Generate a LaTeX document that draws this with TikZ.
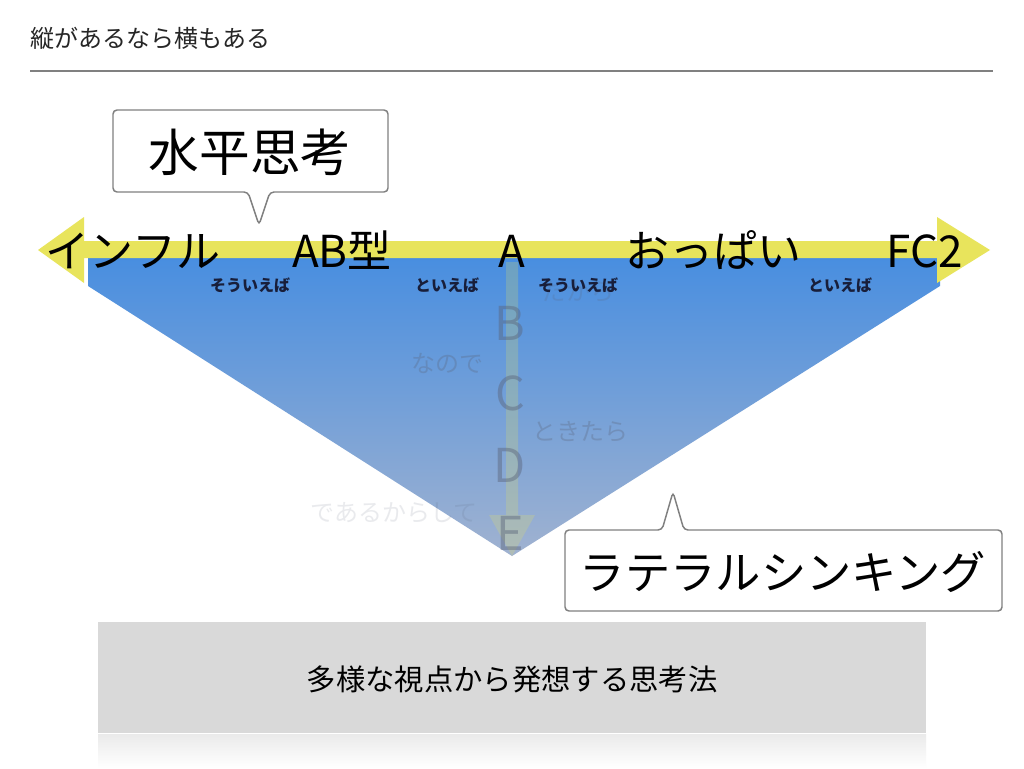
\documentclass[tikz,border=0pt]{standalone}
\usepackage{fontspec}
\newfontfamily\jp{Noto Sans CJK JP}
\usepackage{tikz}
\usetikzlibrary{positioning, calc}

\definecolor{hilite}{RGB}{232,228,92}
\definecolor{skytop}{RGB}{72,142,224}
\definecolor{skymid}{RGB}{74,122,192}
\definecolor{skybot}{RGB}{160,178,208}
\definecolor{boxgray}{RGB}{217,217,217}
\definecolor{linkink}{RGB}{24,30,58}
\definecolor{ghost}{RGB}{90,100,122}

\begin{document}
\begin{tikzpicture}[x=0.75pt, y=-0.75pt,
    word/.style={anchor=base, inner sep=0pt, font=\jp\fontsize{33pt}{33pt}\selectfont},
    link/.style={anchor=base, inner sep=0pt, text=linkink, font=\jp\bfseries\fontsize{12pt}{12pt}\selectfont},
    ghostword/.style={anchor=base, inner sep=0pt, text=ghost, opacity=0.3, font=\jp\fontsize{18pt}{18pt}\selectfont},
    letter/.style={anchor=base, inner sep=0pt, text=ghost, opacity=0.45, font=\jp\fontsize{35pt}{35pt}\selectfont},
    bubble/.style={draw=gray, line width=1.1pt, fill=white, rounded corners=3pt}]
  \useasboundingbox (0,0) rectangle (1024,768);
  \fill[white] (0,0) rectangle (1024,768);

  % heading
  \node[anchor=base west, inner sep=0pt, text=black!85, font=\jp\fontsize{18pt}{18pt}\selectfont]
    (title) at (30,47) {縦があるなら横もある};
  \coordinate (ruleL) at (30,71);
  \coordinate (ruleR) at (993,71);
  \draw[gray, line width=1.5pt] (ruleL) -- (ruleR);

  % the wedge
  \shade[top color=skytop, middle color=skymid, bottom color=skybot]
    (88,256) -- (88,286) -- (512,556) -- (940,286) -- (940,256) -- cycle;

  % vertical (faint) arrow
  \fill[hilite, opacity=0.22]
    (506,262) -- (518,262) -- (518,515) -- (535,515) -- (512,556)
    -- (489,515) -- (506,515) -- cycle;

  % horizontal arrow
  \fill[hilite]
    (38,250) -- (84,217) -- (84,241) -- (937,241) -- (937,217) -- (990,250)
    -- (937,283) -- (937,258) -- (84,258) -- (84,283) -- cycle;

  % vertical chain
  \node[letter] (b) at (510,340) {B};
  \node[letter] (c) at (510,410) {C};
  \node[letter] (d) at (510,482) {D};
  \node[letter] (e) at (510,550) {E};
  \node[ghostword, opacity=0.2] (dakara) at (578,300) {だから};
  \node[ghostword] (node) at (447,372) {なので};
  \node[ghostword] (tokitara) at (580,440) {ときたら};
  \node[ghostword, opacity=0.13] (dearu) at (394,521) {であるからして};

  % horizontal chain
  \node[word] (infl) at (133,267) {インフル};
  \node[word] (abgata) at (342,267) {AB型};
  \node[word] (a) at (512,267) {A};
  \node[word] (oppai) at (713,267) {おっぱい};
  \node[word] (fc) at (925,267) {FC2};

  \node[link] (sou1) at (250,291) {そういえば};
  \node[link] (toi1) at (447,291) {といえば};
  \node[link] (sou2) at (578,291) {そういえば};
  \node[link] (toi2) at (840,291) {といえば};

  % callouts
  \draw[bubble] (113,110) -- (388,110) -- (388,192) -- (270,192)
    -- (259,225) -- (248,192) -- (113,192) -- cycle;
  \node[font=\jp\fontsize{38pt}{38pt}\selectfont] (suihei) at (250,152) {水平思考};

  \draw[bubble] (565,530) -- (662,530) -- (673,492) -- (684,530) -- (1002,530)
    -- (1002,611) -- (565,611) -- cycle;
  \node[font=\jp\fontsize{34pt}{34pt}\selectfont] (lateral) at (783,572) {ラテラルシンキング};

  % caption box
  \fill[boxgray] (98,622) rectangle (926,733);
  \shade[top color=boxgray!55, bottom color=white] (98,734) rectangle (926,768);
  \node[font=\jp\fontsize{22pt}{22pt}\selectfont] (caption) at (512,679) {多様な視点から発想する思考法};
\end{tikzpicture}
\end{document}
